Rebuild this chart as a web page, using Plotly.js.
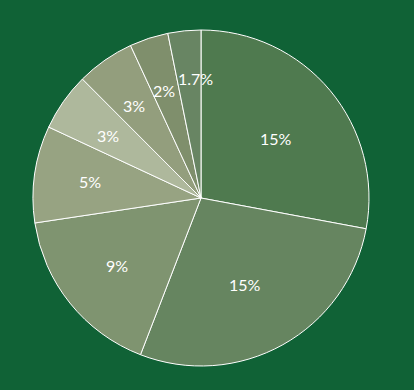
<!DOCTYPE html>
<html><head><meta charset="utf-8">
<script src="https://cdn.plot.ly/plotly-3.0.1.min.js"></script>
<style>html,body{margin:0;padding:0;background:#106236;}</style>
</head><body><div id="chart" style="width:414px;height:390px;"></div>
<script>
const categories = ["A","B","C","D","E","F","G","H"];
const values = [15, 15, 9, 5, 3, 3, 2, 1.7];
const labels = ["15%","15%","9%","5%","3%","3%","2%","1.7%"];
const colors = ["#4f7a4f","#668560","#7f9470","#97a382","#aeb89c","#939e7d","#7f8f6c","#688563"];
const labelRadius = [0.57, 0.58, 0.64, 0.67, 0.67, 0.68, 0.68, 0.71];
const labelAngleShift = [1.5, 2, 0, 0, -1, -1, -1, 3];

const gd = document.getElementById("chart");
Plotly.newPlot(gd, [{
  type: "pie",
  labels: categories,
  values: values,
  textinfo: "none",
  sort: false,
  direction: "clockwise",
  rotation: 0,
  marker: {colors: colors, line: {color: "#ffffff", width: 1}},
  hoverinfo: "none"
}], {
  width: 414, height: 390,
  paper_bgcolor: "#106236",
  plot_bgcolor: "#106236",
  showlegend: false,
  margin: {l: 0, r: 12, t: 30, b: 24}
}, {staticPlot: true}).then(() => {
  const fs = gd._fullLayout._size;
  const cd0 = gd.calcdata[0][0];
  const cx = (cd0 && cd0.cx !== undefined) ? cd0.cx : fs.l + fs.w / 2;
  const cy = (cd0 && cd0.cy !== undefined) ? cd0.cy : fs.t + fs.h / 2;
  const r = (cd0 && cd0.r !== undefined) ? cd0.r : Math.min(fs.w, fs.h) / 2;
  const total = values.reduce((a, b) => a + b, 0);
  let acc = 0;
  const anns = values.map((v, i) => {
    const mid = (acc + v / 2) / total * 2 * Math.PI + labelAngleShift[i] * Math.PI / 180;
    acc += v;
    const px = cx + labelRadius[i] * r * Math.sin(mid);
    const py = cy - labelRadius[i] * r * Math.cos(mid);
    return {
      xref: "paper", yref: "paper",
      x: (px - fs.l) / fs.w, y: 1 - (py - fs.t) / fs.h,
      xanchor: "center", yanchor: "middle",
      text: labels[i], showarrow: false,
      font: {family: "Lato", size: 16, color: "#ffffff"}
    };
  });
  return Plotly.relayout(gd, {annotations: anns});
});
</script></body></html>
